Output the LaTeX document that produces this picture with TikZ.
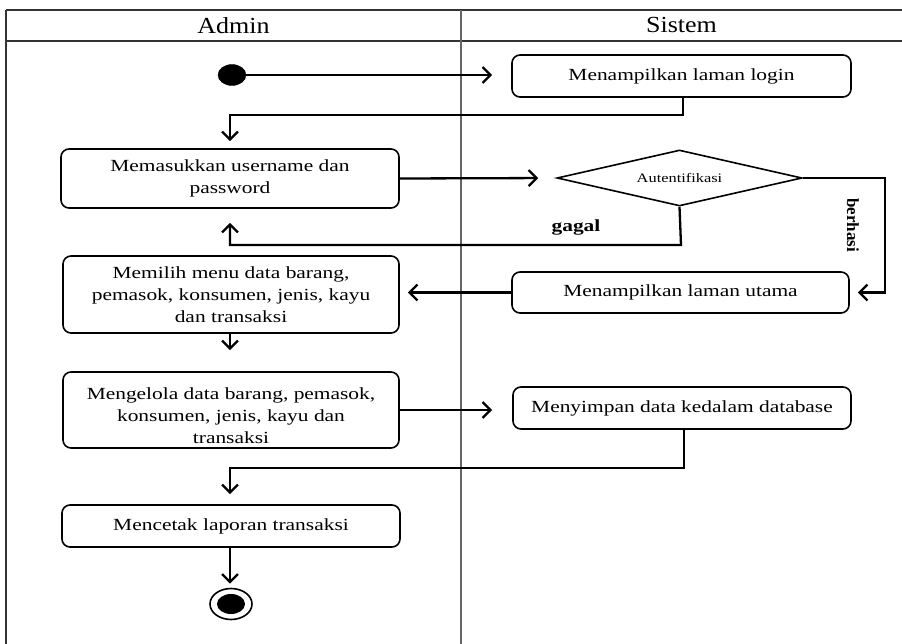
\documentclass[tikz,border=0pt]{standalone}
\usepackage{fontspec}
\setmainfont{Liberation Serif}
\newfontfamily\bodyf[FakeStretch=1.26]{Liberation Serif}
\newfontfamily\headf[FakeStretch=1.13]{Liberation Serif}
\usetikzlibrary{arrows.meta,shapes.geometric}
\begin{document}
\begin{tikzpicture}[x=1pt,y=-1pt,
  act/.style={draw=black, line width=1.6pt, rounded corners=8pt, fill=white,
    align=center, inner sep=0pt,
    font=\bodyf\fontsize{17}{22}\selectfont},
  acttext/.style={align=center, inner sep=0pt, font=\bodyf\fontsize{17}{22}\selectfont},
  conn/.style={line width=2.3pt, line join=miter,
    -{Straight Barb[length=8pt,width=16pt,line width=2.3pt]}},
  lane/.style={line width=1.6pt, draw=black!80},
  divider/.style={line width=2pt, draw=black!60},
  lbl/.style={font=\bfseries\bodyf\fontsize{17}{20}\selectfont},
  hdr/.style={font=\headf\fontsize{23}{26}\selectfont}
]
\useasboundingbox (0,0) rectangle (902,644);
\fill[white] (0,0) rectangle (902,644);
% swimlane frame
\draw[lane] (6,10) -- (902,10);
\draw[lane] (6,41) -- (902,41);
\draw[lane] (6,10) -- (6,644);
\draw[divider] (461,10) -- (461,644);
\node[hdr] (hA) at (233.5,25.5) {Admin};
\node[hdr] (hS) at (681.5,25.5) {Sistem};

% nodes
\node[ellipse, fill=black, draw=black, minimum width=28pt, minimum height=21pt, inner sep=0pt] (start) at (232,75) {};
\node[act, minimum width=339pt, minimum height=42pt] (login) at (681.5,76) {Menampilkan laman login};
\node[act, minimum width=338pt, minimum height=59pt] (mem) at (230,178.5) {Memasukkan username dan\\password};
\node[diamond, aspect=4.4, draw=black, line width=1.6pt, fill=white, minimum width=245pt, minimum height=56pt, inner sep=0pt,
  font=\bodyf\fontsize{13}{15}\selectfont] (auth) at (679.5,178) {Autentifikasi};
\node[act, minimum width=336pt, minimum height=77pt] (pilih) at (231,294.5) {Memilih menu data barang,\\pemasok, konsumen, jenis, kayu\\dan transaksi};
\node[act, minimum width=337pt, minimum height=41pt] (utama) at (680.5,292.5) {Menampilkan laman utama};
\node[act, minimum width=336pt, minimum height=76pt] (kelola) at (231,410) {};
\node[acttext] (kelolaT) at (231,416) {Mengelola data barang, pemasok,\\konsumen, jenis, kayu dan\\transaksi};
\node[act, minimum width=338pt, minimum height=42pt] (simpan) at (682,408) {Menyimpan data kedalam database};
\node[act, minimum width=338pt, minimum height=42pt] (cetak) at (231,526) {Mencetak laporan transaksi};
\node[ellipse, draw=black, line width=1.6pt, fill=white, minimum width=42pt, minimum height=31pt, inner sep=0pt] (end) at (231,604) {};
\node[ellipse, fill=black, minimum width=28pt, minimum height=20pt, inner sep=0pt] (endin) at (end.center) {};

% corner coordinates
\coordinate (c1) at (683,115);
\coordinate (c2) at (230,115);
\coordinate (c3) at (681,245);
\coordinate (c4) at (230,245);
\coordinate (c5) at (885,178);
\coordinate (c6) at (885,292.5);
\coordinate (c7) at (684,468);
\coordinate (c8) at (230,468);

% connectors
\draw[conn, shorten >=19pt] (start.east) -- (start.east -| login.west);
\draw[conn, shorten >=7pt] (login.south -| c1) -- (c1) -- (c2) -- (c2 |- mem.north);
\draw[conn, shorten >=18pt] (mem.east) -- (auth.west);
\draw[conn, shorten >=14pt] (auth.south) -- (c3) -- (c4) -- (c4 |- mem.south);
\draw[conn, shorten >=8pt] (auth.east) -- (c5) -- (c6) -- (utama.east);
\draw[conn, shorten >=8pt] (utama.west) -- (utama.west -| pilih.east);
\draw[conn, shorten >=21pt] (pilih.south -| c4) -- (c4 |- kelola.north);
\draw[conn, shorten >=20pt] (kelola.east) -- (kelola.east -| simpan.west);
\draw[conn, shorten >=10pt] (simpan.south -| c7) -- (c7) -- (c8) -- (c8 |- cetak.north);
\draw[conn, shorten >=4pt] (cetak.south -| c8) -- (c8 |- end.north);

% labels
\node[lbl] (gagal) at (576,227) {gagal};
\node[font=\bfseries\fontsize{17}{20}\selectfont, rotate=-90] (berhasi) at (853,225) {berhasi};
\end{tikzpicture}
\end{document}
